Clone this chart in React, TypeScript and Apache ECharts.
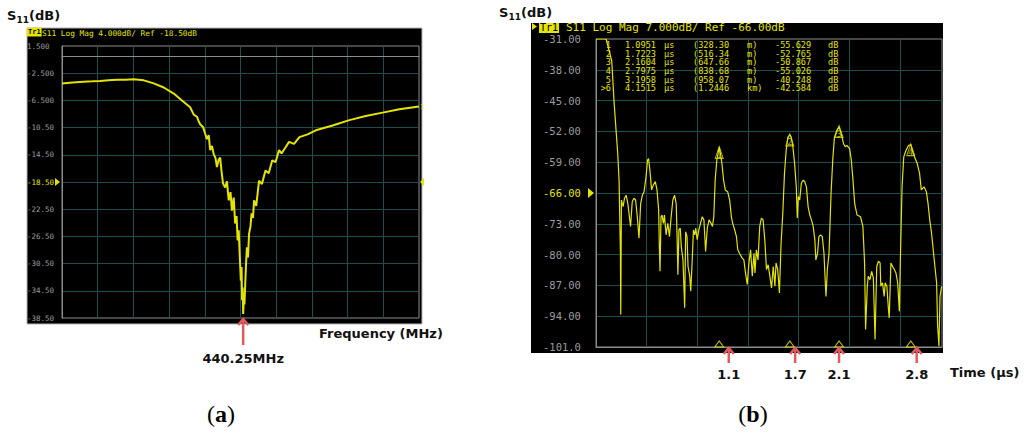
import React, { useEffect, useRef } from "react";
import * as echarts from "echarts";

// ---------- Panel (a): S11 vs frequency ----------
const traceA: [number, number][] = [
  [389.5, -4.0], [392.5, -3.85], [395.5, -3.75], [398, -3.7], [400.2, -3.65], [402.5, -3.55],
  [404.9, -3.45], [407.3, -3.45], [409.6, -3.4], [412.4, -3.55], [415.2, -4.0], [418.0, -4.6],
  [420.8, -5.5], [423.1, -6.5], [425.4, -7.5], [426.4, -8.6], [427.3, -8.9], [427.8, -9.6],
  [428.2, -10.0], [429.0, -10.4], [429.6, -11.4], [430.1, -12.2], [430.6, -11.6], [431.0, -13.8],
  [431.5, -13.2], [432.0, -14.4], [432.5, -15.0], [432.9, -16.3], [433.4, -15.2], [433.8, -14.9],
  [434.2, -17.0], [434.6, -18.7], [435.2, -19.3], [435.7, -18.4], [436.2, -21.2], [436.7, -20.0],
  [437.1, -22.7], [437.6, -20.8], [438.0, -24.6], [438.4, -23.5], [438.7, -27.1], [439.0, -25.6],
  [439.3, -29.5], [439.6, -33.0], [439.8, -31.0], [439.95, -35.9], [440.1, -34.0], [440.25, -37.9],
  [440.45, -35.5], [440.6, -36.5], [440.9, -32.5], [441.1, -30.0], [441.3, -28.1], [441.6, -29.6],
  [441.9, -26.1], [442.3, -25.0], [442.6, -23.1], [443.0, -23.8], [443.3, -21.2], [443.9, -22.0],
  [444.7, -18.3], [445.5, -18.8], [446.5, -16.8], [447.4, -17.2], [448.4, -15.3], [449.3, -15.6],
  [450.3, -13.8], [451.0, -14.3], [452.0, -13.5], [453.1, -12.6], [454.5, -12.9], [456.0, -11.9],
  [458.3, -11.5], [460.6, -10.9], [465.3, -10.2], [470.0, -9.4], [474.6, -8.8], [479.3, -8.3],
  [484.0, -7.8], [489.5, -7.4],
];
const freqMinA = 389.5;
const freqMaxA = 489.5;
const freqStepA = 10;
const dbMinA = -38.5;
const dbMaxA = 1.5;
const dbStepA = 4;
const refA = -18.5;
const dipFreq = 440.25;
const dipLabel = "440.25MHz";

// ---------- Panel (b): S11 vs time ----------
const traceB: [number, number][] = [
  [0, -31], [0.09, -31], [0.14, -36], [0.16, -45], [0.172, -49.5], [0.193, -57.0], [0.205, -63.1],
  [0.217, -79.7], [0.220, -93.6], [0.226, -67.6], [0.241, -69.1], [0.253, -67.2], [0.268, -66.5],
  [0.283, -68.4], [0.307, -73.6], [0.322, -68.0], [0.337, -67.2], [0.352, -67.6], [0.367, -71.4],
  [0.382, -76.3], [0.397, -68.4], [0.412, -66.5], [0.427, -65.7], [0.443, -62.7], [0.458, -58.5],
  [0.467, -58.2], [0.479, -60.8], [0.494, -65.3], [0.509, -64.2], [0.527, -63.4], [0.542, -65.3],
  [0.557, -69.9], [0.563, -78.2], [0.569, -83.8], [0.578, -71.4], [0.587, -71.0], [0.599, -72.9],
  [0.608, -71.0], [0.623, -75.5], [0.638, -72.9], [0.653, -75.9], [0.668, -71.4], [0.683, -67.6],
  [0.698, -66.5], [0.713, -68.4], [0.722, -77.4], [0.728, -84.6], [0.737, -74.4], [0.749, -74.0],
  [0.758, -78.2], [0.773, -81.2], [0.788, -92.1], [0.797, -74.8], [0.809, -75.9], [0.818, -82.7],
  [0.833, -84.9], [0.842, -88.3], [0.854, -81.9], [0.866, -74.4], [0.878, -75.5], [0.887, -74.0],
  [0.899, -76.6], [0.914, -74.4], [0.929, -72.9], [0.944, -71.4], [0.959, -72.1], [0.974, -79.3],
  [0.989, -74.0], [1.005, -72.1], [1.023, -72.9], [1.035, -73.6], [1.047, -71.4], [1.059, -63.1],
  [1.074, -58.5], [1.095, -55.6], [1.104, -56.7], [1.119, -59.3], [1.134, -63.1], [1.149, -65.3],
  [1.170, -65.7], [1.188, -67.6], [1.203, -71.4], [1.215, -72.9], [1.233, -74.4], [1.248, -75.9],
  [1.260, -78.9], [1.275, -79.7], [1.299, -80.8], [1.314, -81.2], [1.329, -84.2], [1.344, -86.8],
  [1.359, -81.9], [1.374, -78.9], [1.389, -84.9], [1.404, -79.7], [1.413, -84.2], [1.425, -78.9],
  [1.440, -81.2], [1.455, -73.6], [1.470, -71.7], [1.485, -72.1], [1.500, -76.6], [1.515, -83.4],
  [1.530, -82.3], [1.545, -84.9], [1.560, -87.6], [1.575, -82.7], [1.590, -87.2], [1.600, -81.9],
  [1.615, -83.4], [1.630, -88.7], [1.645, -77.4], [1.660, -70.6], [1.675, -61.6], [1.690, -56.3],
  [1.705, -53.3], [1.722, -52.8], [1.735, -53.3], [1.750, -55.5], [1.765, -59.3], [1.780, -64.6],
  [1.789, -71.7], [1.798, -66.8], [1.810, -67.6], [1.825, -63.8], [1.840, -63.1], [1.855, -63.4],
  [1.870, -64.6], [1.885, -69.1], [1.900, -71.0], [1.915, -72.1], [1.930, -73.6], [1.945, -76.6],
  [1.954, -81.2], [1.969, -79.7], [1.981, -75.9], [1.996, -75.5], [2.011, -75.9], [2.026, -79.7],
  [2.035, -84.9], [2.044, -89.5], [2.056, -83.4], [2.071, -79.7], [2.089, -66.1], [2.104, -58.5],
  [2.119, -53.3], [2.140, -51.8], [2.160, -50.9], [2.179, -52.5], [2.200, -54.8], [2.215, -55.5],
  [2.230, -55.2], [2.254, -55.9], [2.269, -58.5], [2.284, -63.1], [2.299, -68.4], [2.320, -71.0],
  [2.351, -71.4], [2.372, -73.6], [2.387, -81.9], [2.396, -97.0], [2.411, -87.2], [2.420, -84.9],
  [2.435, -85.7], [2.450, -83.8], [2.465, -85.3], [2.480, -99.3], [2.495, -82.7], [2.510, -81.5],
  [2.525, -81.9], [2.531, -87.2], [2.546, -86.4], [2.561, -89.5], [2.570, -86.4], [2.585, -87.2],
  [2.597, -91.7], [2.606, -94.4], [2.621, -81.9], [2.636, -82.7], [2.651, -83.4], [2.666, -84.2],
  [2.681, -86.4], [2.696, -92.9], [2.705, -81.2], [2.720, -64.6], [2.735, -57.8], [2.756, -56.3],
  [2.777, -55.2], [2.798, -55.0], [2.810, -56.3], [2.831, -57.8], [2.855, -59.3], [2.876, -61.6],
  [2.891, -65.3], [2.915, -64.6], [2.936, -65.7], [2.951, -68.4], [2.966, -72.1], [2.982, -75.1],
  [2.997, -78.9], [3.012, -82.7], [3.027, -86.4], [3.036, -96.2], [3.048, -100.8], [3.057, -89.5],
  [3.072, -87.2],
];
const timeMinB = 0;
const timeMaxB = 3.075;
const timeStepB = 0.45;
const dbMinB = -101;
const dbMaxB = -31;
const dbStepB = 7;
const refB = -66;

const markerNo = ["1", "2", "3", "4"];
const markerTime = [1.0951, 1.7223, 2.1604, 2.7975];
const markerDb = [-55.629, -52.765, -50.867, -55.026];

const tableIdx = ["1", "2", "3", "4", "5", ">6"];
const tableTime = ["1.0951", "1.7223", "2.1604", "2.7975", "3.1958", "4.1515"];
const tableDist = ["(328.30", "(516.34", "(647.66", "(838.68", "(958.07", "(1.2446"];
const tableDistUnit = ["m)", "m)", "m)", "m)", "m)", "km)"];
const tableDb = ["-55.629", "-52.765", "-50.867", "-55.026", "-40.248", "-42.584"];

const arrowTimes = [1.18, 1.77, 2.16, 2.85];
const arrowLabels = ["1.1", "1.7", "2.1", "2.8"];

const YEL = "#e4e400";
const GRIDC = "#1f4d4d";
const AXC = "#8c8c8c";
const LBL = "#9c9c9c";
const RED = "#e05a5e";
const MONO = "'DejaVu Sans Mono', 'Liberation Mono', monospace";
const SANS = "'DejaVu Sans', Verdana, sans-serif";
const SERIF = "'Liberation Serif', 'Times New Roman', serif";

export default function App() {
  const ref = useRef<HTMLDivElement>(null);
  useEffect(() => {
    document.body.style.margin = "0";
    if (!ref.current) return;
    const chart = echarts.init(ref.current, undefined, { renderer: "svg" });

    const fmtA = (v: number) => (Math.abs(v) < 10 ? v.toFixed(3) : v.toFixed(2));
    const fmtB = (v: number) => (Math.abs(v) < 100 ? v.toFixed(2) : v.toFixed(1));

    const splitLine = { show: true, showMinLine: false, showMaxLine: false, lineStyle: { color: GRIDC, width: 1 } };

    chart.setOption({
      animation: false,
      backgroundColor: "#ffffff",
      grid: [
        { left: 62, top: 46, width: 357, height: 272, show: true, backgroundColor: "#000", borderColor: AXC, borderWidth: 1 },
        { left: 596, top: 39, width: 346, height: 308, show: true, backgroundColor: "#000", borderColor: AXC, borderWidth: 1 },
      ],
      xAxis: [
        {
          gridIndex: 0, type: "value", min: freqMinA, max: freqMaxA, interval: freqStepA,
          axisLabel: { show: false }, axisTick: { show: false },
          axisLine: { show: true, lineStyle: { color: AXC } }, splitLine,
        },
        {
          gridIndex: 1, type: "value", min: timeMinB, max: timeMaxB, interval: timeStepB,
          axisLabel: { show: false }, axisTick: { show: false },
          axisLine: { show: true, lineStyle: { color: AXC } }, splitLine,
        },
      ],
      yAxis: [
        {
          gridIndex: 0, type: "value", min: dbMinA, max: dbMaxA, interval: dbStepA,
          axisTick: { show: false }, axisLine: { show: true, lineStyle: { color: AXC } }, splitLine,
          axisLabel: {
            showMinLabel: true, showMaxLabel: true, align: "left", margin: 35,
            fontFamily: MONO, fontSize: 7.5,
            color: (v: any) => (Number(v) === refA ? YEL : LBL),
            formatter: (v: number) => fmtA(v),
          },
        },
        {
          gridIndex: 1, type: "value", min: dbMinB, max: dbMaxB, interval: dbStepB,
          axisTick: { show: false }, axisLine: { show: true, lineStyle: { color: AXC } }, splitLine,
          axisLabel: {
            showMinLabel: true, showMaxLabel: true, align: "left", margin: 53,
            fontFamily: MONO, fontSize: 10.5,
            color: (v: any) => (Number(v) === refB ? YEL : LBL),
            formatter: (v: number) => fmtB(v),
          },
        },
      ],
      series: [
        {
          type: "line", xAxisIndex: 0, yAxisIndex: 0, data: traceA, showSymbol: false, symbol: "none",
          lineStyle: { color: YEL, width: 2 }, silent: true, z: 5,
        },
        {
          type: "line", xAxisIndex: 1, yAxisIndex: 1, data: traceB, showSymbol: false, symbol: "none",
          lineStyle: { color: YEL, width: 1.2 }, silent: true, z: 5,
        },
        {
          type: "scatter", xAxisIndex: 1, yAxisIndex: 1, silent: true, z: 6, clip: false,
          data: markerTime.map((t, i) => [t, markerDb[i]]),
          symbol: "triangle", symbolSize: [8, 12], symbolOffset: [0, 5],
          itemStyle: { color: "rgba(0,0,0,0)", borderColor: YEL, borderWidth: 1 },
          label: {
            show: true, position: "inside", offset: [0, 3], color: YEL, fontSize: 8, fontFamily: MONO,
            formatter: (p: any) => markerNo[p.dataIndex],
          },
        },
        {
          type: "scatter", xAxisIndex: 1, yAxisIndex: 1, silent: true, z: 6, clip: false,
          data: markerTime.map((t) => [t, dbMinB]),
          symbol: "triangle", symbolSize: [9, 6], symbolOffset: [0, -3],
          itemStyle: { color: "rgba(0,0,0,0)", borderColor: YEL, borderWidth: 1 },
        },
      ],
    });

    const pA = (x: number, y: number) => chart.convertToPixel({ xAxisIndex: 0, yAxisIndex: 0 }, [x, y]) as number[];
    const pB = (x: number, y: number) => chart.convertToPixel({ xAxisIndex: 1, yAxisIndex: 1 }, [x, y]) as number[];

    const g: any[] = [];
    // dark instrument backgrounds
    g.push({ type: "rect", z: -10, shape: { x: 27, y: 28, width: 395, height: 296 }, style: { fill: "#000", stroke: "#b4b4b4", lineWidth: 1 } });
    g.push({ type: "rect", z: -10, shape: { x: 531, y: 23, width: 412, height: 330 }, style: { fill: "#000" } });

    // headers
    g.push({ type: "text", z: 10, x: 27, y: 32, style: { text: "Tr1", fontFamily: MONO, fontSize: 7, fontWeight: "bold", fill: "#000", backgroundColor: YEL, padding: [1, 1], verticalAlign: "middle" } });
    g.push({ type: "text", z: 10, x: 42, y: 33, style: { text: "S11 Log Mag 4.000dB/ Ref -18.50dB", fontFamily: MONO, fontSize: 7.8, fill: YEL, verticalAlign: "middle" } });
    g.push({ type: "polygon", z: 10, shape: { points: [[532, 23], [537, 26.5], [532, 30]] }, style: { fill: YEL } });
    g.push({ type: "text", z: 10, x: 539, y: 27, style: { text: "Tr1", fontFamily: MONO, fontSize: 10, fill: "#000", backgroundColor: YEL, padding: [1, 1], verticalAlign: "middle" } });
    g.push({ type: "text", z: 10, x: 566, y: 27, style: { text: "S11 Log Mag 7.000dB/ Ref -66.00dB", fontFamily: MONO, fontSize: 11, fill: YEL, verticalAlign: "middle" } });
    g.push({ type: "rect", z: 20, shape: { x: 525, y: 0, width: 425, height: 23 }, style: { fill: "#fff" } });

    // titles S11(dB)
    const title = (x0: number, yMid: number) => {
      g.push({ type: "text", z: 30, x: x0, y: yMid, style: { text: "S", fontFamily: SANS, fontWeight: "bold", fontSize: 13, fill: "#111", verticalAlign: "middle" } });
      g.push({ type: "text", z: 30, x: x0 + 9.5, y: yMid + 4.5, style: { text: "11", fontFamily: SANS, fontWeight: "bold", fontSize: 9, fill: "#111", verticalAlign: "middle" } });
      g.push({ type: "text", z: 30, x: x0 + 22, y: yMid, style: { text: "(dB)", fontFamily: SANS, fontWeight: "bold", fontSize: 13, fill: "#111", verticalAlign: "middle" } });
    };
    title(7, 15);
    title(499, 12);

    // reference level markers
    const ra = pA(freqMinA, refA);
    g.push({ type: "polygon", z: 10, shape: { points: [[ra[0] - 7, ra[1] - 4], [ra[0] - 2, ra[1]], [ra[0] - 7, ra[1] + 4]] }, style: { fill: YEL } });
    const ra2 = pA(freqMaxA, refA);
    g.push({ type: "polygon", z: 10, shape: { points: [[ra2[0] + 5, ra2[1] - 4], [ra2[0] + 1, ra2[1]], [ra2[0] + 5, ra2[1] + 4]] }, style: { fill: YEL } });
    const rb = pB(timeMinB, refB);
    g.push({ type: "polygon", z: 10, shape: { points: [[rb[0] - 8, rb[1] - 5], [rb[0] - 2, rb[1]], [rb[0] - 8, rb[1] + 5]] }, style: { fill: YEL } });
    const endA = pA(traceA[traceA.length - 1][0], traceA[traceA.length - 1][1]);
    g.push({ type: "text", z: 10, x: endA[0] + 1, y: endA[1], style: { text: "1", fontFamily: MONO, fontSize: 7, fill: YEL, verticalAlign: "middle" } });

    // marker table: one multi-line text per column
    const rowH = 8.7;
    const topY = 45 - rowH / 2;
    const col = (x: number, lines: string[], align = "left") =>
      g.push({
        type: "text", z: 10, x, y: topY,
        style: { text: lines.join("\n"), fontFamily: MONO, fontSize: 8.6, lineHeight: rowH, fill: YEL, align, verticalAlign: "top" },
      });
    col(611, tableIdx, "right");
    col(625, tableTime);
    col(664, tableIdx.map(() => "µs"));
    col(693, tableDist);
    col(747, tableDistUnit);
    col(775, tableDb);
    col(828, tableIdx.map(() => "dB"));

    // red arrows
    const arrow = (x: number, yTip: number, yEnd: number) => {
      g.push({ type: "line", z: 10, shape: { x1: x, y1: yTip + 1, x2: x, y2: yEnd }, style: { stroke: RED, lineWidth: 2.5 } });
      g.push({ type: "polyline", z: 10, shape: { points: [[x - 5, yTip + 7], [x, yTip + 1], [x + 5, yTip + 7]] }, style: { stroke: RED, lineWidth: 2.5, fill: "none" } });
    };
    const dp = pA(dipFreq, dbMinA);
    arrow(dp[0], dp[1], dp[1] + 27);
    g.push({ type: "text", z: 10, x: dp[0], y: 358, style: { text: dipLabel, fontFamily: SANS, fontWeight: "bold", fontSize: 13, fill: "#111", align: "center", verticalAlign: "middle" } });
    g.push({ type: "text", z: 10, x: 319, y: 333, style: { text: "Frequency (MHz)", fontFamily: SANS, fontWeight: "bold", fontSize: 13, fill: "#111", verticalAlign: "middle" } });

    arrowTimes.forEach((t, i) => {
      const p = pB(t, dbMinB);
      arrow(p[0], p[1], p[1] + 16);
      g.push({ type: "text", z: 10, x: p[0], y: 374, style: { text: arrowLabels[i], fontFamily: SANS, fontWeight: "bold", fontSize: 13, fill: "#111", align: "center", verticalAlign: "middle" } });
    });
    g.push({ type: "text", z: 10, x: 950, y: 372, style: { text: "Time (µs)", fontFamily: SANS, fontWeight: "bold", fontSize: 13, fill: "#111", verticalAlign: "middle" } });

    // sub-figure labels
    const sub = (cx: number, letter: string) =>
      g.push({
        type: "text", z: 10, x: cx, y: 414,
        style: {
          text: `{p|(}{b|${letter}}{p|)}`, align: "center", verticalAlign: "middle",
          rich: {
            p: { fontFamily: SERIF, fontSize: 24, fill: "#000" },
            b: { fontFamily: SERIF, fontSize: 24, fontWeight: "bold", fill: "#000" },
          },
        },
      });
    sub(221, "a");
    sub(753, "b");

    chart.setOption({ graphic: { elements: g } });

    return () => chart.dispose();
  }, []);
  return <div ref={ref} style={{ width: 1024, height: 433 }} />;
}
